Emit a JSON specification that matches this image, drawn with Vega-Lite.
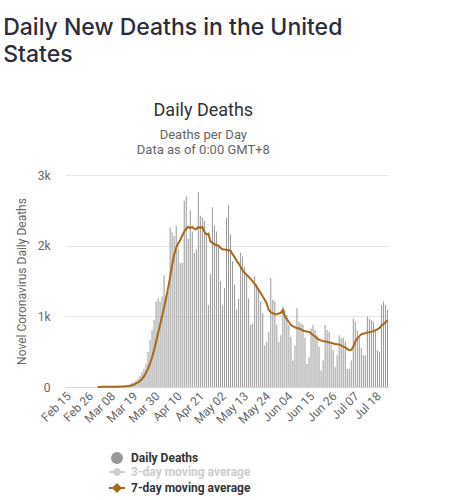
{
"$schema": "https://vega.github.io/schema/vega-lite/v6.json",
"background": "white",
"padding": {"left": 3, "top": 17, "right": 10, "bottom": 5},
"title": {"text": ["Daily New Deaths in the United", "States"], "anchor": "start", "frame": "bounds", "font": "Inter", "fontSize": 23, "fontWeight": 500, "color": "#2b2d3a", "lineHeight": 27, "offset": 35, "dx": -12},
"config": {"font": "Roboto", "view": {"stroke": null}, "axis": {"labelFont": "Roboto", "titleFont": "Roboto"}, "legend": {"labelFont": "Roboto"}},
"vconcat": [{
"width": 323,
"height": 212,
"title": {"text": "Daily Deaths", "subtitle": ["Deaths per Day", "Data as of 0:00 GMT+8"], "anchor": "middle", "frame": "bounds", "font": "Roboto", "fontSize": 18, "fontWeight": "normal", "color": "#333333", "subtitleFont": "Roboto", "subtitleFontSize": 13, "subtitleColor": "#666666", "subtitleLineHeight": 15, "subtitlePadding": 9, "offset": 12},
"data": {"values": [
{"date":"2020-02-15","deaths":0,"avg7":null},
{"date":"2020-02-16","deaths":0,"avg7":null},
{"date":"2020-02-17","deaths":0,"avg7":null},
{"date":"2020-02-18","deaths":0,"avg7":null},
{"date":"2020-02-19","deaths":0,"avg7":null},
{"date":"2020-02-20","deaths":0,"avg7":null},
{"date":"2020-02-21","deaths":0,"avg7":null},
{"date":"2020-02-22","deaths":0,"avg7":null},
{"date":"2020-02-23","deaths":0,"avg7":null},
{"date":"2020-02-24","deaths":0,"avg7":null},
{"date":"2020-02-25","deaths":0,"avg7":null},
{"date":"2020-02-26","deaths":0,"avg7":null},
{"date":"2020-02-27","deaths":0,"avg7":null},
{"date":"2020-02-28","deaths":0,"avg7":null},
{"date":"2020-02-29","deaths":1,"avg7":null},
{"date":"2020-03-01","deaths":1,"avg7":null},
{"date":"2020-03-02","deaths":4,"avg7":1},
{"date":"2020-03-03","deaths":1,"avg7":1},
{"date":"2020-03-04","deaths":4,"avg7":2},
{"date":"2020-03-05","deaths":1,"avg7":2},
{"date":"2020-03-06","deaths":2,"avg7":2},
{"date":"2020-03-07","deaths":3,"avg7":2},
{"date":"2020-03-08","deaths":4,"avg7":3},
{"date":"2020-03-09","deaths":4,"avg7":3},
{"date":"2020-03-10","deaths":6,"avg7":3},
{"date":"2020-03-11","deaths":8,"avg7":4},
{"date":"2020-03-12","deaths":7,"avg7":5},
{"date":"2020-03-13","deaths":9,"avg7":6},
{"date":"2020-03-14","deaths":10,"avg7":7},
{"date":"2020-03-15","deaths":12,"avg7":8},
{"date":"2020-03-16","deaths":22,"avg7":11},
{"date":"2020-03-17","deaths":25,"avg7":14},
{"date":"2020-03-18","deaths":36,"avg7":18},
{"date":"2020-03-19","deaths":55,"avg7":25},
{"date":"2020-03-20","deaths":67,"avg7":35},
{"date":"2020-03-21","deaths":90,"avg7":50},
{"date":"2020-03-22","deaths":114,"avg7":65},
{"date":"2020-03-23","deaths":160,"avg7":85},
{"date":"2020-03-24","deaths":210,"avg7":115},
{"date":"2020-03-25","deaths":257,"avg7":150},
{"date":"2020-03-26","deaths":330,"avg7":200},
{"date":"2020-03-27","deaths":495,"avg7":260},
{"date":"2020-03-28","deaths":662,"avg7":330},
{"date":"2020-03-29","deaths":805,"avg7":420},
{"date":"2020-03-30","deaths":948,"avg7":520},
{"date":"2020-03-31","deaths":1210,"avg7":640},
{"date":"2020-04-01","deaths":1257,"avg7":760},
{"date":"2020-04-02","deaths":1210,"avg7":880},
{"date":"2020-04-03","deaths":1281,"avg7":1000},
{"date":"2020-04-04","deaths":1581,"avg7":1130},
{"date":"2020-04-05","deaths":1300,"avg7":1260},
{"date":"2020-04-06","deaths":1350,"avg7":1400},
{"date":"2020-04-07","deaths":2257,"avg7":1560},
{"date":"2020-04-08","deaths":2186,"avg7":1730},
{"date":"2020-04-09","deaths":2138,"avg7":1870},
{"date":"2020-04-10","deaths":2281,"avg7":1970},
{"date":"2020-04-11","deaths":1952,"avg7":2030},
{"date":"2020-04-12","deaths":1757,"avg7":2080},
{"date":"2020-04-13","deaths":1757,"avg7":2140},
{"date":"2020-04-14","deaths":2638,"avg7":2200},
{"date":"2020-04-15","deaths":2695,"avg7":2240},
{"date":"2020-04-16","deaths":2100,"avg7":2265},
{"date":"2020-04-17","deaths":2500,"avg7":2250},
{"date":"2020-04-18","deaths":2200,"avg7":2265},
{"date":"2020-04-19","deaths":1900,"avg7":2240},
{"date":"2020-04-20","deaths":1950,"avg7":2235},
{"date":"2020-04-21","deaths":2757,"avg7":2265},
{"date":"2020-04-22","deaths":2424,"avg7":2250},
{"date":"2020-04-23","deaths":2400,"avg7":2265},
{"date":"2020-04-24","deaths":2352,"avg7":2200},
{"date":"2020-04-25","deaths":2162,"avg7":2160},
{"date":"2020-04-26","deaths":1162,"avg7":2170},
{"date":"2020-04-27","deaths":1600,"avg7":2060},
{"date":"2020-04-28","deaths":2543,"avg7":2040},
{"date":"2020-04-29","deaths":2281,"avg7":2020},
{"date":"2020-04-30","deaths":2200,"avg7":2010},
{"date":"2020-05-01","deaths":2000,"avg7":2000},
{"date":"2020-05-02","deaths":1500,"avg7":1970},
{"date":"2020-05-03","deaths":1150,"avg7":1950},
{"date":"2020-05-04","deaths":1400,"avg7":1945},
{"date":"2020-05-05","deaths":2400,"avg7":1940},
{"date":"2020-05-06","deaths":2567,"avg7":1935},
{"date":"2020-05-07","deaths":2162,"avg7":1930},
{"date":"2020-05-08","deaths":1781,"avg7":1880},
{"date":"2020-05-09","deaths":1450,"avg7":1840},
{"date":"2020-05-10","deaths":1100,"avg7":1790},
{"date":"2020-05-11","deaths":1250,"avg7":1750},
{"date":"2020-05-12","deaths":1900,"avg7":1700},
{"date":"2020-05-13","deaths":1852,"avg7":1650},
{"date":"2020-05-14","deaths":1700,"avg7":1615},
{"date":"2020-05-15","deaths":1600,"avg7":1590},
{"date":"2020-05-16","deaths":1257,"avg7":1560},
{"date":"2020-05-17","deaths":876,"avg7":1530},
{"date":"2020-05-18","deaths":900,"avg7":1495},
{"date":"2020-05-19","deaths":1567,"avg7":1460},
{"date":"2020-05-20","deaths":1450,"avg7":1420},
{"date":"2020-05-21","deaths":1400,"avg7":1370},
{"date":"2020-05-22","deaths":1210,"avg7":1330},
{"date":"2020-05-23","deaths":1043,"avg7":1280},
{"date":"2020-05-24","deaths":590,"avg7":1235},
{"date":"2020-05-25","deaths":638,"avg7":1180},
{"date":"2020-05-26","deaths":781,"avg7":1090},
{"date":"2020-05-27","deaths":1543,"avg7":1060},
{"date":"2020-05-28","deaths":1233,"avg7":1045},
{"date":"2020-05-29","deaths":1210,"avg7":1030},
{"date":"2020-05-30","deaths":876,"avg7":1028},
{"date":"2020-05-31","deaths":638,"avg7":1040},
{"date":"2020-06-01","deaths":733,"avg7":1050},
{"date":"2020-06-02","deaths":1138,"avg7":1090},
{"date":"2020-06-03","deaths":1090,"avg7":1000},
{"date":"2020-06-04","deaths":1019,"avg7":960},
{"date":"2020-06-05","deaths":876,"avg7":920},
{"date":"2020-06-06","deaths":710,"avg7":880},
{"date":"2020-06-07","deaths":376,"avg7":860},
{"date":"2020-06-08","deaths":590,"avg7":845},
{"date":"2020-06-09","deaths":1114,"avg7":835},
{"date":"2020-06-10","deaths":924,"avg7":828},
{"date":"2020-06-11","deaths":900,"avg7":815},
{"date":"2020-06-12","deaths":880,"avg7":800},
{"date":"2020-06-13","deaths":700,"avg7":790},
{"date":"2020-06-14","deaths":329,"avg7":785},
{"date":"2020-06-15","deaths":424,"avg7":780},
{"date":"2020-06-16","deaths":829,"avg7":760},
{"date":"2020-06-17","deaths":876,"avg7":735},
{"date":"2020-06-18","deaths":805,"avg7":715},
{"date":"2020-06-19","deaths":733,"avg7":690},
{"date":"2020-06-20","deaths":567,"avg7":668},
{"date":"2020-06-21","deaths":233,"avg7":660},
{"date":"2020-06-22","deaths":376,"avg7":652},
{"date":"2020-06-23","deaths":876,"avg7":645},
{"date":"2020-06-24","deaths":805,"avg7":640},
{"date":"2020-06-25","deaths":781,"avg7":630},
{"date":"2020-06-26","deaths":600,"avg7":625},
{"date":"2020-06-27","deaths":519,"avg7":614},
{"date":"2020-06-28","deaths":281,"avg7":610},
{"date":"2020-06-29","deaths":448,"avg7":605},
{"date":"2020-06-30","deaths":733,"avg7":600},
{"date":"2020-07-01","deaths":686,"avg7":590},
{"date":"2020-07-02","deaths":700,"avg7":570},
{"date":"2020-07-03","deaths":650,"avg7":560},
{"date":"2020-07-04","deaths":257,"avg7":540},
{"date":"2020-07-05","deaths":257,"avg7":520},
{"date":"2020-07-06","deaths":376,"avg7":525},
{"date":"2020-07-07","deaths":971,"avg7":570},
{"date":"2020-07-08","deaths":924,"avg7":640},
{"date":"2020-07-09","deaths":800,"avg7":690},
{"date":"2020-07-10","deaths":700,"avg7":720},
{"date":"2020-07-11","deaths":550,"avg7":745},
{"date":"2020-07-12","deaths":448,"avg7":757},
{"date":"2020-07-13","deaths":450,"avg7":760},
{"date":"2020-07-14","deaths":995,"avg7":770},
{"date":"2020-07-15","deaths":971,"avg7":775},
{"date":"2020-07-16","deaths":948,"avg7":780},
{"date":"2020-07-17","deaths":924,"avg7":790},
{"date":"2020-07-18","deaths":800,"avg7":805},
{"date":"2020-07-19","deaths":519,"avg7":815},
{"date":"2020-07-20","deaths":500,"avg7":835},
{"date":"2020-07-21","deaths":1162,"avg7":870},
{"date":"2020-07-22","deaths":1210,"avg7":890},
{"date":"2020-07-23","deaths":1162,"avg7":915},
{"date":"2020-07-24","deaths":1090,"avg7":940}
]},
"encoding": {
"x": {"field": "date", "type": "ordinal", "sort": null, "scale": {"paddingInner": 0.5, "paddingOuter": 0},
"axis": {"title": null, "values": ["2020-02-15","2020-02-26","2020-03-08","2020-03-19","2020-03-30","2020-04-10","2020-04-21","2020-05-02","2020-05-13","2020-05-24","2020-06-04","2020-06-15","2020-06-26","2020-07-07","2020-07-18"], "labelExpr": "utcFormat(toDate(datum.value), '%b %d')", "labelAngle": -45, "labelAlign": "right", "labelBaseline": "top", "labelFontSize": 12, "labelColor": "#666666", "labelPadding": 3, "ticks": false, "grid": false, "domainColor": "#ccd6eb", "domainWidth": 1}}
},
"layer": [
{"mark": {"type": "bar"},
"encoding": {
"y": {"field": "deaths", "type": "quantitative", "scale": {"domain": [0, 3000], "nice": false},
"axis": {"title": "Novel Coronavirus Daily Deaths", "titleFontSize": 12, "titleFontWeight": "normal", "titleColor": "#666666", "titlePadding": 9, "values": [0, 1000, 2000, 3000], "labelExpr": "datum.value == 0 ? '0' : (datum.value / 1000) + 'k'", "labelFontSize": 12, "labelColor": "#666666", "labelPadding": 15, "ticks": false, "domain": false, "gridColor": "#e6e6e6"}},
"color": {"datum": "Daily Deaths", "type": "nominal",
"scale": {"domain": ["Daily Deaths", "3-day moving average", "7-day moving average"], "range": ["#999999", "#cccccc", "#a66a1c"]},
"legend": {"title": null, "orient": "none", "legendX": 46, "legendY": 277, "direction": "vertical", "symbolSize": 144,
"symbolType": {"expr": "datum.label == 'Daily Deaths' ? 'circle' : datum.label == '3-day moving average' ? 'M-1.35,0H1.35M0.45,0A0.45,0.45,0,1,1,-0.45,0A0.45,0.45,0,1,1,0.45,0Z' : 'M-1.35,0H1.35M0,-0.6L0.6,0L0,0.6L-0.6,0Z'"},
"symbolStrokeColor": {"expr": "datum.label == '7-day moving average' ? '#a66a1c' : datum.label == '3-day moving average' ? '#cccccc' : '#999999'"},
"symbolStrokeWidth": {"expr": "datum.label == 'Daily Deaths' ? 0 : 2"},
"symbolOpacity": 1,
"labelColor": {"expr": "datum.label == '3-day moving average' ? '#cccccc' : '#333333'"},
"labelFontSize": 12, "labelFontWeight": "bold", "labelOffset": 8, "rowPadding": 1}}
}},
{"mark": {"type": "line", "color": "#a66a1c", "strokeWidth": 2},
"encoding": {"y": {"field": "avg7", "type": "quantitative", "title": "Novel Coronavirus Daily Deaths"}}}
]
}]
}
